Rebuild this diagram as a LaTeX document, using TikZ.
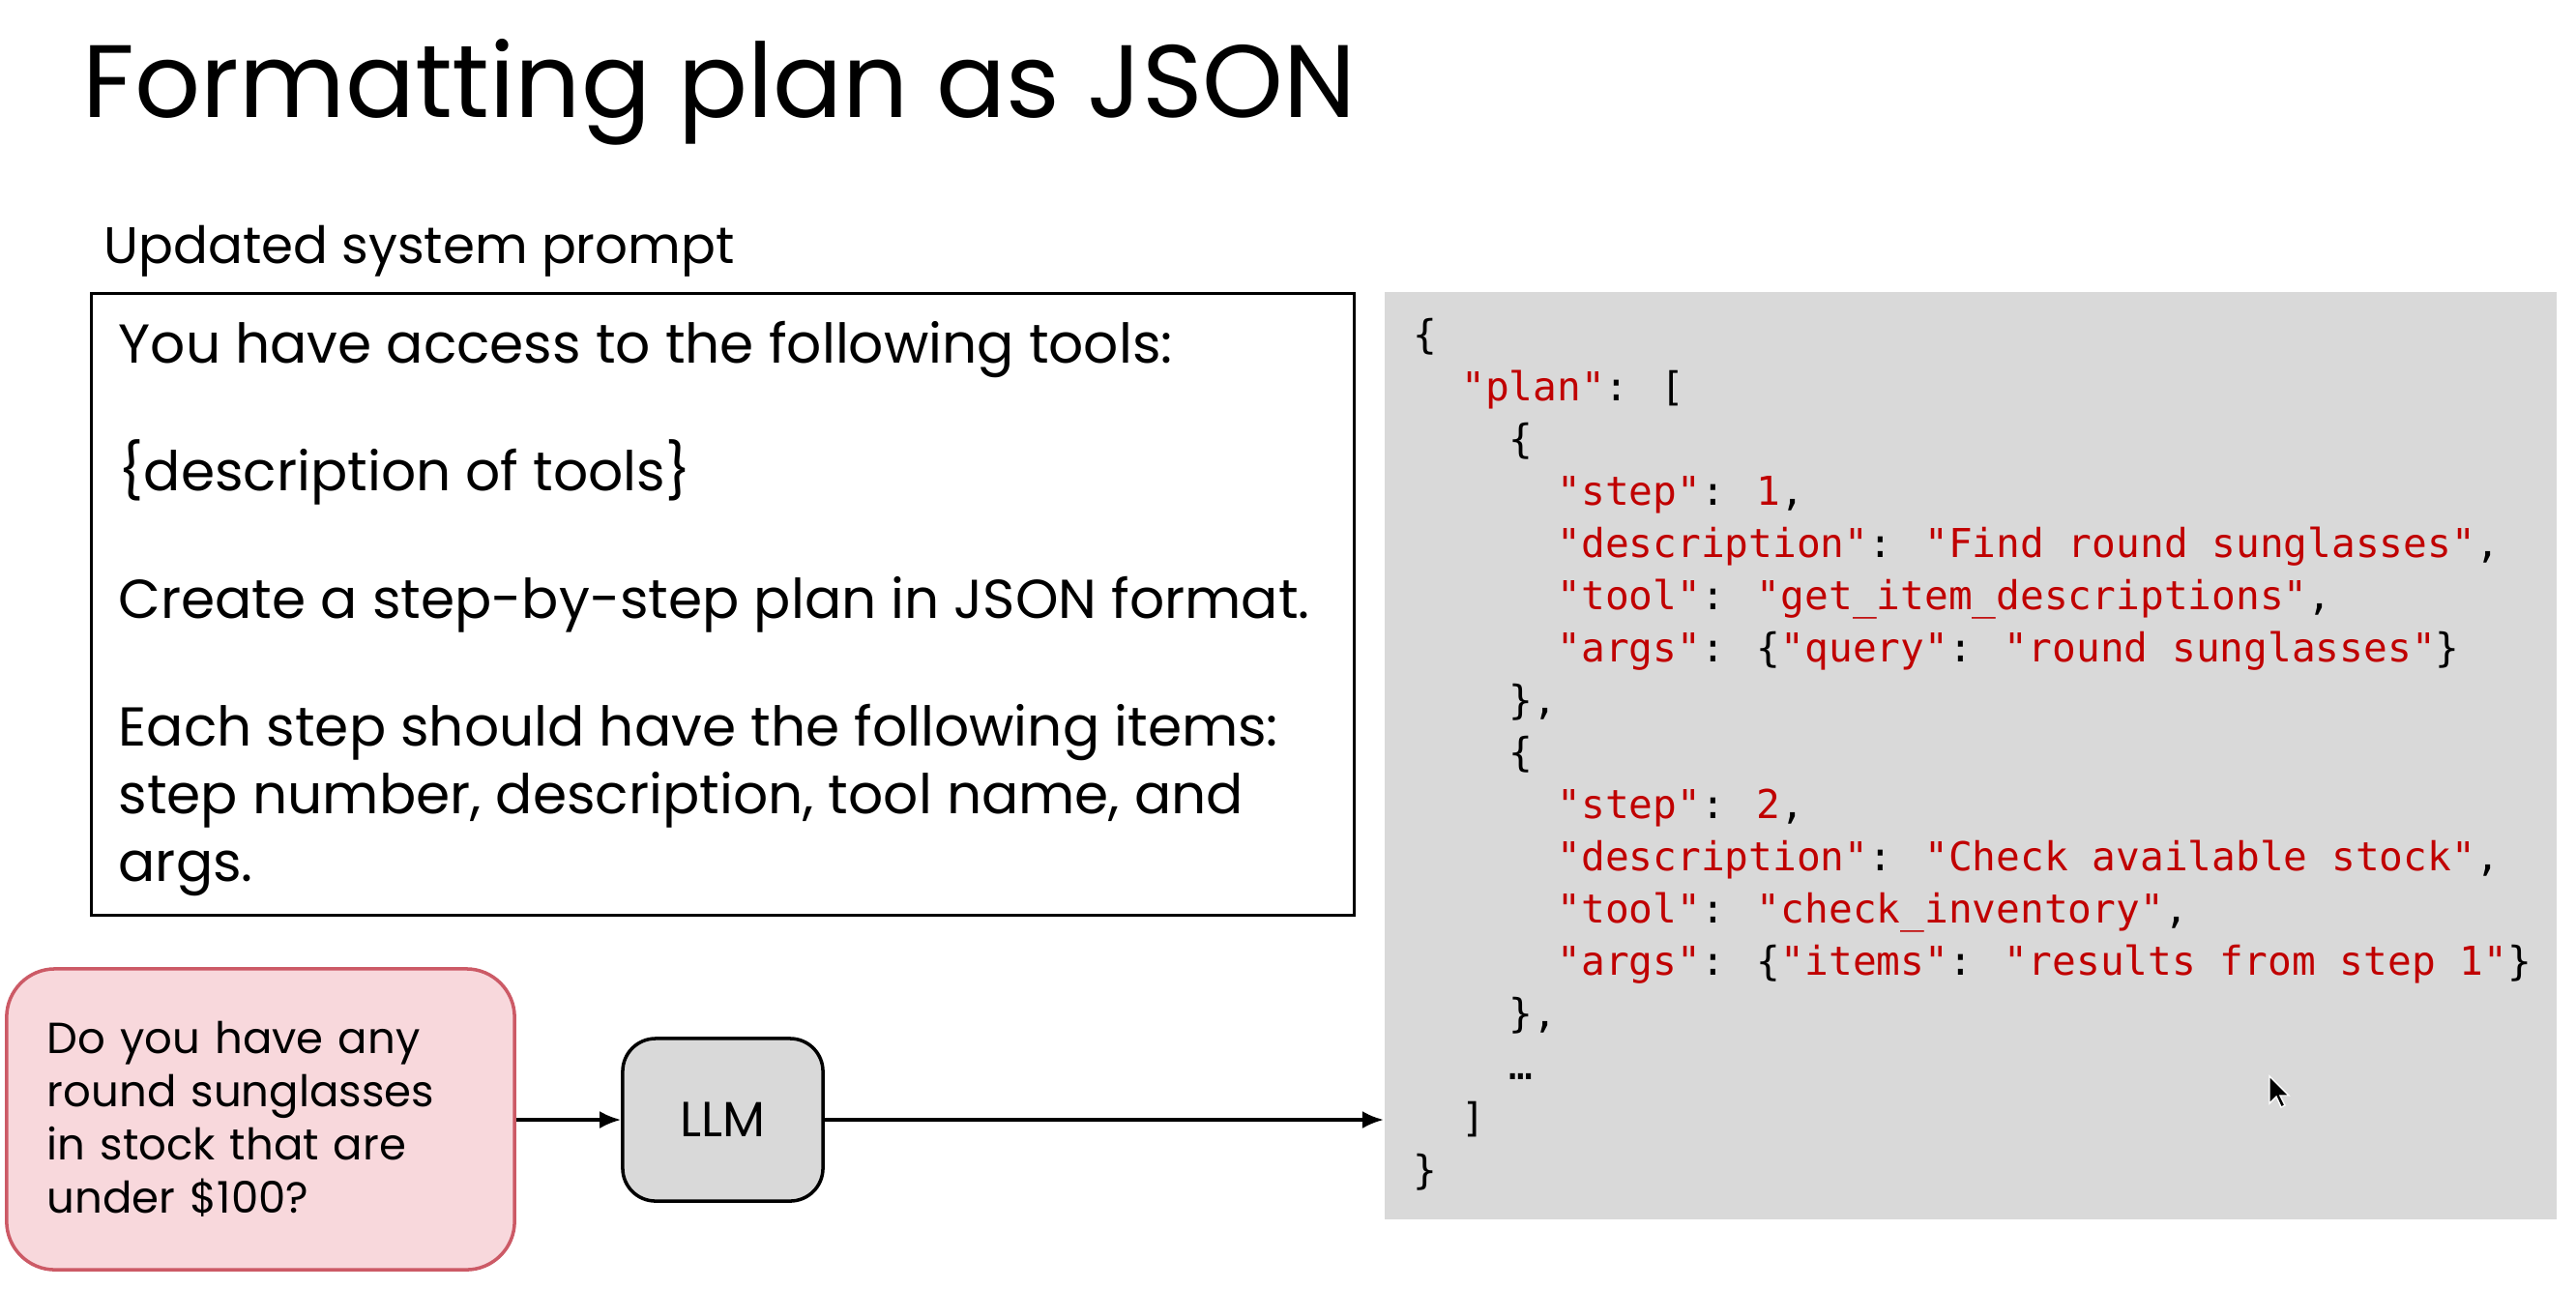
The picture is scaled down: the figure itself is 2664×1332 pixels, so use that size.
\documentclass[tikz,border=0pt]{standalone}
\usepackage{fontspec}
\setmainfont{Poppins}
\newfontfamily\codefont{DejaVu Sans Mono}
\usetikzlibrary{arrows.meta,positioning}
\definecolor{jsred}{HTML}{C00000}
\definecolor{codegray}{HTML}{D9D9D9}
\definecolor{qpink}{HTML}{F8D8DC}
\definecolor{qborder}{HTML}{CC5A66}
\newcommand{\js}[1]{\textcolor{jsred}{#1}}
\tikzset{
  promptbox/.style={draw=black,line width=0.9pt,minimum width=13.05cm,minimum height=6.42cm},
  querybox/.style={draw=qborder,fill=qpink,line width=1pt,rounded corners=0.5cm,
    minimum width=5.25cm,minimum height=3.11cm,text width=4.41cm,inner xsep=0.42cm,align=left,
    font=\fontsize{12.8}{15.6}\selectfont},
  llmbox/.style={draw=black,fill=codegray,line width=1pt,rounded corners=0.34cm,
    minimum width=2.07cm,minimum height=1.68cm,font=\fontsize{14.5}{16}\selectfont},
  codebox/.style={fill=codegray,minimum width=12.12cm,minimum height=9.59cm,inner sep=0pt},
  codeline/.style={anchor=base west,inner sep=0pt,font=\codefont\fontsize{11.7}{14}\selectfont},
  flow/.style={-{Latex[length=0.22cm,width=0.18cm]},line width=1pt}
}
\begin{document}
\begin{tikzpicture}[x=0.01cm,y=-0.01cm]
  \useasboundingbox[fill=white] (0,0) rectangle (2664,1332);
  \node[anchor=base west,inner sep=0pt,font=\fontsize{30.3}{36}\selectfont] (title) at (85,121) {Formatting plan as JSON};
  \node[anchor=base west,inner sep=0pt,font=\fontsize{15.1}{18}\selectfont] (label) at (107,272) {Updated system prompt};
  \node[promptbox] (prompt) at (747.5,625) {};
  \node[anchor=north west,inner sep=0pt,align=left,font=\fontsize{16.1}{19.9}\selectfont] (prompttext) at (122,332)
    {You have access to the following tools:\\[17.6pt]
     \{description of tools\}\\[17.6pt]
     Create a step-by-step plan in JSON format.\\[17.6pt]
     Each step should have the following items:\\
     step number, description, tool name, and\\
     args.};
  \node[codebox] (code) at (2038,781.5) {};
  \foreach \ind/\t [count=\i] in {
    0/{\{},
    2/{\js{"plan"}: [},
    4/{\{},
    6/{\js{"step"}: \js{1},},
    6/{\js{"description"}: \js{"Find round sunglasses"},},
    6/{\js{"tool"}: \js{"get\_item\_descriptions"},},
    6/{\js{"args"}: \{\js{"query"}: \js{"round sunglasses"}\}},
    4/{\},},
    4/{\{},
    6/{\js{"step"}: \js{2},},
    6/{\js{"description"}: \js{"Check available stock"},},
    6/{\js{"tool"}: \js{"check\_inventory"},},
    6/{\js{"args"}: \{\js{"items"}: \js{"results from step 1"}\}},
    4/{\},},
    4/{…},
    2/{]},
    0/{\}}}
    \node[codeline] (line\i) at ({1461+24.8*\ind},{360+54*(\i-1)}) {\t};
  \node[querybox] (query) at (269.5,1157.5) {Do you have any round sunglasses in stock that are under \$100?};
  \node[llmbox] (llm) at (747.5,1158) {LLM};
  \draw[flow] (query.east |- llm.west) -- (llm.west);
  \draw[flow] (llm.east) -- (llm.east -| code.west);
  % mouse pointer
  \draw[white,fill=black,line width=0.4pt] (2347,1113) -- ++(0,28) -- ++(7,-7) -- ++(5,11) -- ++(4,-2) -- ++(-5,-10) -- ++(9,0) -- cycle;
\end{tikzpicture}
\end{document}
